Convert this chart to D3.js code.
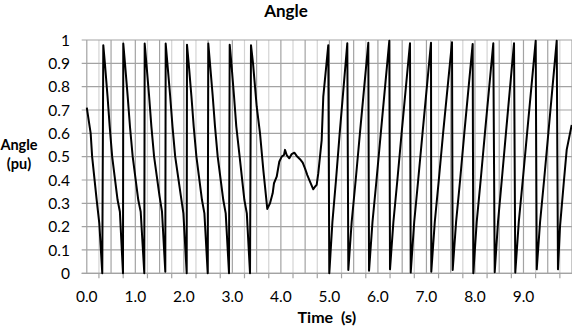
<!DOCTYPE html>
<html>
<head>
<meta charset="utf-8">
<script src="https://cdn.jsdelivr.net/npm/d3@7"></script>
<style>
  html, body { margin: 0; padding: 0; background: #fff; }
  svg { display: block; font-family: Lato, "Open Sans", sans-serif; }
</style>
</head>
<body>
<svg id="chart" width="572" height="331"></svg>
<script>
// Rotor angle trace (pu) versus time (s)
const timeS = [
  0.000, 0.080, 0.110, 0.204, 0.258, 0.319,
  0.340, 0.373, 0.427, 0.472, 0.523, 0.635, 0.682, 0.746,
  0.752, 0.787, 0.843, 0.890, 0.946, 1.061, 1.111, 1.185,
  1.193, 1.228, 1.284, 1.331, 1.387, 1.500, 1.550, 1.618,
  1.626, 1.661, 1.718, 1.766, 1.822, 1.940, 1.991, 2.059,
  2.065, 2.100, 2.156, 2.203, 2.259, 2.374, 2.424, 2.492,
  2.504, 2.539, 2.595, 2.642, 2.698, 2.813, 2.863, 2.931,
  2.945, 2.980, 3.034, 3.081, 3.150, 3.248, 3.298, 3.364,
  3.384, 3.426, 3.467, 3.502, 3.570, 3.638, 3.720, 3.776,
  3.831, 3.858, 3.914, 3.967, 4.017, 4.064, 4.085, 4.120,
  4.174, 4.223, 4.277, 4.326, 4.394, 4.450, 4.497, 4.545,
  4.600, 4.668, 4.703, 4.738, 4.771, 4.841, 4.874, 4.977, 4.998,
  5.062, 5.136, 5.212, 5.369, 5.390,
  5.459, 5.542, 5.629, 5.802, 5.817,
  5.888, 5.971, 6.059, 6.235, 6.249,
  6.319, 6.401, 6.488, 6.661, 6.676,
  6.748, 6.830, 6.919, 7.094, 7.100,
  7.172, 7.255, 7.343, 7.527, 7.541,
  7.611, 7.694, 7.780, 7.953, 7.966,
  8.036, 8.118, 8.205, 8.378, 8.407,
  8.475, 8.553, 8.638, 8.805, 8.831,
  8.903, 8.986, 9.074, 9.252, 9.273,
  9.342, 9.425, 9.512, 9.685, 9.711,
  9.753, 9.835, 9.891, 9.994
];
const anglePu = [
  0.710, 0.600, 0.500, 0.314, 0.214, 0.000,
  0.978, 0.900, 0.760, 0.630, 0.500, 0.314, 0.264, 0.000,
  0.985, 0.900, 0.757, 0.628, 0.500, 0.314, 0.264, 0.000,
  0.985, 0.900, 0.760, 0.630, 0.500, 0.330, 0.264, 0.007,
  0.985, 0.900, 0.760, 0.630, 0.500, 0.330, 0.257, 0.000,
  0.980, 0.900, 0.760, 0.630, 0.500, 0.314, 0.257, 0.000,
  0.985, 0.900, 0.760, 0.630, 0.500, 0.314, 0.257, 0.000,
  0.980, 0.900, 0.760, 0.630, 0.500, 0.314, 0.257, 0.000,
  0.978, 0.900, 0.800, 0.714, 0.600, 0.443, 0.276, 0.300,
  0.343, 0.386, 0.414, 0.478, 0.500, 0.507, 0.529, 0.507,
  0.493, 0.511, 0.517, 0.503, 0.489, 0.474, 0.450, 0.421,
  0.393, 0.360, 0.371, 0.379, 0.429, 0.571, 0.757, 0.978, 0.000,
  0.220, 0.400, 0.600, 0.986, 0.014,
  0.220, 0.400, 0.600, 0.988, 0.011,
  0.220, 0.400, 0.600, 0.997, 0.017,
  0.220, 0.400, 0.600, 0.986, 0.003,
  0.220, 0.400, 0.600, 0.988, 0.007,
  0.220, 0.400, 0.600, 0.990, 0.014,
  0.220, 0.400, 0.600, 0.983, 0.000,
  0.220, 0.400, 0.600, 0.986, 0.005,
  0.220, 0.400, 0.600, 0.986, 0.003,
  0.220, 0.400, 0.600, 0.997, 0.017,
  0.220, 0.400, 0.600, 0.997, 0.017,
  0.200, 0.400, 0.530, 0.636
];

const xTickValues = [0, 1, 2, 3, 4, 5, 6, 7, 8, 9];
const xTickLabels = ["0.0", "1.0", "2.0", "3.0", "4.0", "5.0", "6.0", "7.0", "8.0", "9.0"];
const yTickValues = [0, 0.1, 0.2, 0.3, 0.4, 0.5, 0.6, 0.7, 0.8, 0.9, 1];
const yTickLabels = ["0", "0.1", "0.2", "0.3", "0.4", "0.5", "0.6", "0.7", "0.8", "0.9", "1"];
const majorGridTimes = d3.range(0, 10.001, 0.5);
const minorGridTimes = d3.range(0.25, 10, 0.5);

const svg = d3.select("#chart");
const plot = { left: 81.7, right: 572, top: 40, bottom: 273.3 };

const x = d3.scaleLinear().domain([-0.105, 10.0]).range([plot.left, plot.right]);
const y = d3.scaleLinear().domain([0, 1]).range([plot.bottom, plot.top]);

// gridlines
const grid = svg.append("g");
grid.selectAll("line.minor").data(minorGridTimes).join("line")
  .attr("class", "minor")
  .attr("x1", d => x(d)).attr("x2", d => x(d))
  .attr("y1", plot.top).attr("y2", plot.bottom)
  .attr("stroke", "#d4d4d4").attr("stroke-width", 1.2);
grid.selectAll("line.major").data(majorGridTimes).join("line")
  .attr("class", "major")
  .attr("x1", d => x(d)).attr("x2", d => x(d))
  .attr("y1", plot.top).attr("y2", plot.bottom)
  .attr("stroke", "#a3a3a3").attr("stroke-width", 1.2);
grid.selectAll("line.h").data(yTickValues).join("line")
  .attr("class", "h")
  .attr("x1", plot.left).attr("x2", plot.right)
  .attr("y1", d => y(d)).attr("y2", d => y(d))
  .attr("stroke", "#a3a3a3").attr("stroke-width", 1.2);

// x axis: line, tick marks between labels, labels on whole seconds
const xAxis = svg.append("g");
xAxis.append("line")
  .attr("x1", plot.left).attr("x2", plot.right)
  .attr("y1", plot.bottom).attr("y2", plot.bottom)
  .attr("stroke", "#a3a3a3").attr("stroke-width", 1.2);
xAxis.selectAll("line.tick").data(minorGridTimes).join("line")
  .attr("class", "tick")
  .attr("x1", d => x(d)).attr("x2", d => x(d))
  .attr("y1", plot.bottom).attr("y2", plot.bottom + 5)
  .attr("stroke", "#a3a3a3").attr("stroke-width", 1.2);
xAxis.selectAll("text").data(xTickValues).join("text")
  .attr("x", d => x(d)).attr("y", 301.5)
  .attr("text-anchor", "middle")
  .attr("font-size", 15.5).attr("fill", "#000")
  .text((d, i) => xTickLabels[i]);

// y axis labels
svg.append("g").selectAll("text").data(yTickValues).join("text")
  .attr("x", 70).attr("y", d => y(d))
  .attr("dy", "0.36em")
  .attr("text-anchor", "end")
  .attr("font-size", 15.5).attr("fill", "#000")
  .text((d, i) => yTickLabels[i]);

// angle trace
const pts = timeS.map((t, i) => [t, anglePu[i]]);
svg.append("path")
  .datum(pts)
  .attr("fill", "none")
  .attr("stroke", "#000")
  .attr("stroke-width", 2)
  .attr("stroke-linejoin", "round")
  .attr("d", d3.line().x(d => x(d[0])).y(d => y(d[1])));

// titles
svg.append("text")
  .attr("x", 286).attr("y", 17)
  .attr("text-anchor", "middle")
  .attr("font-size", 17).attr("font-weight", "bold")
  .text("Angle");
const yTitle = svg.append("text")
  .attr("text-anchor", "middle")
  .attr("font-size", 14.5).attr("font-weight", "bold");
yTitle.append("tspan").attr("x", 19).attr("y", 150).text("Angle");
yTitle.append("tspan").attr("x", 19).attr("y", 169).text("(pu)");
svg.append("text")
  .attr("x", (plot.left + plot.right) / 2).attr("y", 323)
  .attr("text-anchor", "middle")
  .attr("font-size", 16).attr("font-weight", "bold")
  .style("white-space", "pre")
  .text("Time  (s)");
</script>
</body>
</html>
